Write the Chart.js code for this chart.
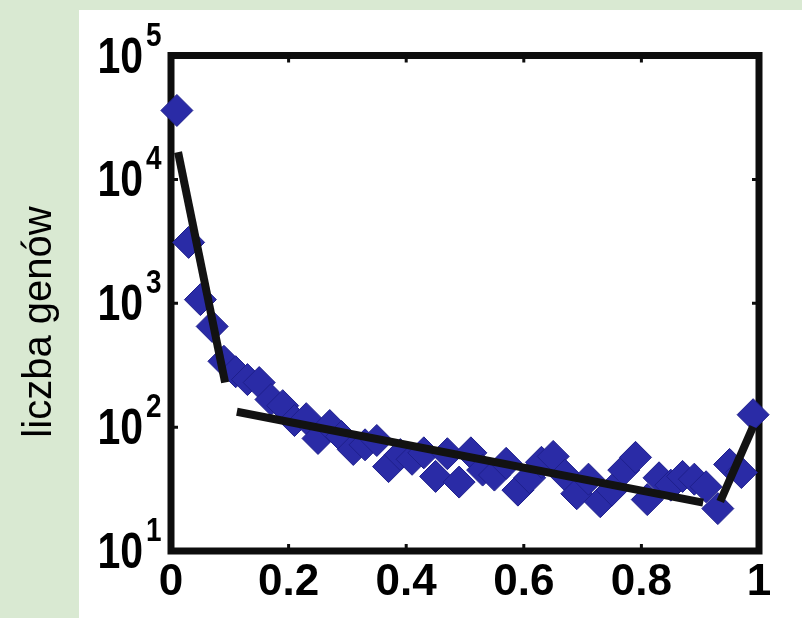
<!DOCTYPE html>
<html><head><meta charset="utf-8">
<script src="https://cdn.jsdelivr.net/npm/chart.js@4.4.1/dist/chart.umd.min.js"></script>
<style>
html,body{margin:0;padding:0;background:#d9e9d2;}
#wrap{position:relative;width:802px;height:618px;overflow:hidden;background:#d9e9d2;}
#panel{position:absolute;left:79px;top:10px;width:723px;height:608px;background:#ffffff;}
canvas{position:absolute;left:0;top:0;}
</style></head><body>
<div id="wrap"><div id="panel"></div><canvas id="c" width="802" height="618"></canvas></div>
<script>
// ---- data ----
const binCenters = [0.01,0.03,0.05,0.07,0.09,0.11,0.13,0.15,0.17,0.19,
                    0.21,0.23,0.25,0.27,0.29,0.31,0.33,0.35,0.37,0.39,
                    0.41,0.43,0.45,0.47,0.49,0.51,0.53,0.55,0.57,0.59,
                    0.61,0.63,0.65,0.67,0.69,0.71,0.73,0.75,0.77,0.79,
                    0.81,0.83,0.85,0.87,0.89,0.91,0.93,0.95,0.97,0.99];
const geneCounts = [36000,3100,1070,650,340,280,242,229,167,149,
                    113,117,81,103,84,66,72,78,48,60,
                    55,62,40,61,36,62,45,41,51,31,
                    39,52,58,41,29,38,25,31,45,57,
                    26,39,34,40,38,33,22,50,43,126];
const fitLowX = [0.012, 0.092];   const fitLowY = [16600, 229];
const fitMidX = [0.112, 0.905];   const fitMidY = [133, 24.6];
const fitHighX = [0.934, 0.99];   const fitHighY = [25.1, 101];
const xTickValues = [0, 0.2, 0.4, 0.6, 0.8, 1];
const xTickLabels = ['0', '0.2', '0.4', '0.6', '0.8', '1'];
const yTickValues = [10, 100, 1000, 10000, 100000];
const yTickBase = '10';
const yTickExponents = ['1', '2', '3', '4', '5'];
const yAxisTitle = 'liczba genów';

const pts = (xs, ys) => xs.map((x, i) => ({x: x, y: ys[i]}));
const NUM_FONT = "'Liberation Sans', Arial, Helvetica, sans-serif";

const boxPlugin = {
  id: 'box',
  beforeDatasetsDraw(chart) {
    const {ctx, chartArea: a, scales} = chart;
    ctx.save();
    ctx.strokeStyle = '#0d0d0d';
    ctx.lineWidth = 7;
    ctx.lineJoin = 'miter';
    ctx.strokeRect(a.left, a.top, a.right - a.left, a.bottom - a.top);
    ctx.lineWidth = 3;
    ctx.beginPath();
    xTickValues.forEach(v => {
      const px = scales.x.getPixelForValue(v);
      if (v > 0 && v < 1) {
        ctx.moveTo(px, a.bottom); ctx.lineTo(px, a.bottom - 7);
        ctx.moveTo(px, a.top); ctx.lineTo(px, a.top + 7);
      }
    });
    yTickValues.forEach(v => {
      const py = scales.y.getPixelForValue(v);
      if (v > 10 && v < 100000) {
        ctx.moveTo(a.left, py); ctx.lineTo(a.left + 7, py);
        ctx.moveTo(a.right, py); ctx.lineTo(a.right - 7, py);
      }
    });
    ctx.stroke();
    ctx.restore();
  },
  afterDraw(chart) {
    const {ctx, scales} = chart;
    const sx = 0.82;
    ctx.save();
    ctx.fillStyle = '#000';
    yTickValues.forEach((v, i) => {
      const py = scales.y.getPixelForValue(v);
      ctx.save();
      ctx.scale(sx, 1);
      ctx.font = 'bold 50px ' + NUM_FONT;
      ctx.textAlign = 'right';
      ctx.textBaseline = 'alphabetic';
      ctx.fillText(yTickBase, 143 / sx, py + 17);
      ctx.font = 'bold 34px ' + NUM_FONT;
      ctx.textAlign = 'left';
      ctx.fillText(yTickExponents[i], 146 / sx, py - 10);
      ctx.restore();
    });
    // y axis title
    ctx.save();
    ctx.translate(51, 322);
    ctx.rotate(-Math.PI / 2);
    ctx.font = '40px ' + NUM_FONT;
    ctx.textAlign = 'center';
    ctx.textBaseline = 'alphabetic';
    ctx.fillText(yAxisTitle, 0, 0);
    ctx.restore();
    ctx.restore();
  }
};

new Chart(document.getElementById('c'), {
  type: 'scatter',
  data: {
    datasets: [
      {
        label: 'fit1', data: pts(fitLowX, fitLowY), showLine: true,
        borderColor: '#121212', borderWidth: 8, pointRadius: 0, order: 1, clip: false
      },
      {
        label: 'fit2', data: pts(fitMidX, fitMidY), showLine: true,
        borderColor: '#121212', borderWidth: 8, pointRadius: 0, order: 1, clip: false
      },
      {
        label: 'fit3', data: pts(fitHighX, fitHighY), showLine: true,
        borderColor: '#121212', borderWidth: 8, pointRadius: 0, order: 1, clip: false
      },
      {
        label: 'genes', data: pts(binCenters, geneCounts), showLine: false,
        pointStyle: 'rectRot', pointRadius: 16, pointHoverRadius: 16,
        backgroundColor: '#2a2ba6', borderColor: '#1e1f8c', borderWidth: 1,
        order: 2, clip: false
      }
    ]
  },
  options: {
    responsive: false, animation: false, devicePixelRatio: 1,
    layout: {padding: {left: 0, right: 43, top: 55.5, bottom: 0}},
    plugins: {legend: {display: false}, tooltip: {enabled: false}},
    scales: {
      x: {
        type: 'linear', min: 0, max: 1,
        afterBuildTicks: s => { s.ticks = xTickValues.map(v => ({value: v})); },
        afterFit: s => { s.height = 67; },
        grid: {display: false, drawTicks: false},
        border: {display: false},
        ticks: {
          color: '#000', padding: 5, maxRotation: 0, autoSkip: false,
          font: {family: NUM_FONT, size: 44, weight: 'bold'},
          callback: (v) => { const i = xTickValues.indexOf(v); return i >= 0 ? xTickLabels[i] : ''; }
        }
      },
      y: {
        type: 'logarithmic', min: 10, max: 100000,
        afterBuildTicks: s => { s.ticks = yTickValues.map(v => ({value: v})); },
        afterFit: s => { s.width = 171; },
        grid: {display: false, drawTicks: false},
        border: {display: false},
        ticks: {display: false},
        title: {display: false, text: yAxisTitle}
      }
    }
  },
  plugins: [boxPlugin]
});
</script>
</body></html>
